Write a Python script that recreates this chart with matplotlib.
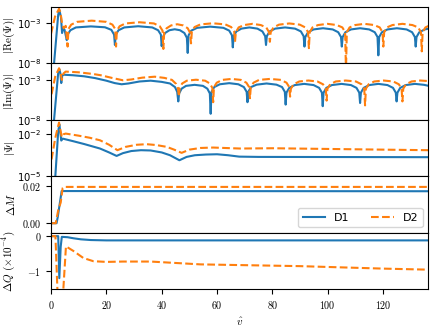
import numpy as np
import matplotlib
matplotlib.use("Agg")
import matplotlib.pyplot as plt
from matplotlib.ticker import NullLocator

plt.rcParams['mathtext.fontset'] = 'cm'
plt.rcParams['axes.formatter.use_mathtext'] = True

# ---------------- data (t, log10|value|) ----------------
re_d1 = [(1.1, -8.0), (2.6, -1.9), (3.0, -1.29), (3.6, -2.2), (4.0, -4.2), (4.4, -3.6), (4.9, -3.8), (5.7, -5.1),
         (6.0, -4.4), (7.0, -3.85), (9.0, -3.5), (14.4, -3.37), (19.5, -3.48), (21.8, -3.8), (22.8, -4.4), (23.1, -5.7),
         (23.4, -4.4), (24.4, -3.85), (26.5, -3.5), (31.5, -3.35), (36.6, -3.5), (38.7, -3.85), (39.7, -4.4), (40.0, -5.85),
         (40.3, -4.8), (41.2, -4.2), (42.8, -3.85), (44.7, -3.73), (46.6, -3.85), (48.2, -4.2), (49.1, -4.8), (49.4, -6.7),
         (49.7, -4.5), (50.7, -3.9), (52.8, -3.55), (57.5, -3.4), (62.3, -3.55), (64.4, -3.9), (65.4, -4.5), (65.7, -6.0),
         (66.0, -4.6), (67.0, -4.0), (68.8, -3.65), (71.7, -3.5), (74.6, -3.65), (76.4, -4.0), (77.4, -4.6), (77.7, -5.7),
         (78.0, -4.6), (79.0, -4.0), (81.0, -3.65), (84.6, -3.5), (88.2, -3.65), (90.3, -4.0), (91.3, -4.6), (91.6, -5.9),
         (91.9, -4.7), (92.9, -4.1), (94.9, -3.75), (98.3, -3.6), (101.8, -3.75), (103.8, -4.1), (104.8, -4.7), (105.1, -5.9),
         (105.4, -4.7), (106.4, -4.1), (108.4, -3.75), (111.7, -3.6), (115.0, -3.75), (117.0, -4.1), (118.0, -4.7), (118.3, -7.0),
         (118.6, -4.7), (119.6, -4.1), (121.6, -3.75), (125.0, -3.6), (128.5, -3.75), (130.5, -4.1), (131.5, -4.7), (131.8, -5.9),
         (132.1, -4.7), (133.1, -4.1), (135.1, -3.75), (136.5, -3.65)]

re_d2 = [(0.0, -4.3), (1.45, -2.14), (2.9, -1.16), (3.4, -1.6), (4.0, -3.0), (4.6, -3.6), (5.3, -3.3), (6.0, -5.9),
         (6.3, -3.7), (7.3, -3.15), (9.4, -2.8), (14.7, -2.65), (20.0, -2.8), (22.2, -3.15), (23.2, -3.7), (23.5, -5.9),
         (23.8, -3.9), (24.8, -3.35), (26.9, -3.0), (32.0, -2.85), (37.2, -3.0), (39.3, -3.35), (40.3, -3.9), (40.6, -6.2),
         (40.9, -4.2), (41.8, -3.6), (43.4, -3.25), (45.6, -3.1), (47.8, -3.25), (49.4, -3.6), (50.3, -4.2), (50.6, -5.5),
         (50.9, -4.0), (51.9, -3.45), (54.0, -3.12), (58.5, -2.98), (63.0, -3.12), (65.1, -3.45), (66.2, -4.0), (66.5, -5.3),
         (66.8, -4.1), (67.8, -3.5), (69.8, -3.2), (72.8, -3.05), (75.8, -3.2), (77.8, -3.5), (78.8, -4.1), (79.1, -5.3),
         (79.4, -4.1), (80.4, -3.5), (82.4, -3.15), (86.1, -3.0), (89.9, -3.15), (91.9, -3.5), (92.9, -4.1), (93.2, -6.1),
         (93.5, -4.1), (94.5, -3.5), (96.5, -3.2), (99.9, -3.05), (103.3, -3.2), (105.3, -3.5), (106.3, -4.1), (106.6, -9.0),
         (106.9, -4.1), (107.9, -3.5), (109.9, -3.2), (113.3, -3.05), (116.8, -3.2), (118.8, -3.5), (119.8, -4.1), (120.1, -5.9),
         (120.4, -4.1), (121.4, -3.5), (123.4, -3.2), (127.0, -3.05), (130.6, -3.2), (132.7, -3.5), (133.7, -4.1), (134.0, -6.5),
         (134.3, -4.1), (135.3, -3.5), (136.5, -3.3)]

im_d1 = [(1.1, -8.0), (2.6, -2.1), (3.0, -1.66), (3.4, -2.2), (3.7, -3.4), (4.1, -2.4), (4.5, -2.35),
         (8.0, -2.42), (12.0, -2.55), (16.0, -2.78), (20.0, -3.1), (23.0, -3.4), (25.5, -3.55), (28.0, -3.45),
         (32.0, -3.2), (36.0, -3.1), (40.0, -3.25), (43.0, -3.45), (44.8, -3.9), (45.6, -4.5), (46.0, -5.7),
         (46.3, -4.7), (47.2, -4.1), (48.8, -3.75), (51.9, -3.62), (54.9, -3.75), (56.5, -4.1), (57.4, -4.7), (57.7, -7.25),
         (58.0, -4.5), (59.0, -3.9), (61.0, -3.55), (64.4, -3.41), (67.7, -3.55), (69.7, -3.9), (70.7, -4.5), (71.0, -5.8),
         (71.3, -4.5), (72.3, -3.9), (74.3, -3.6), (77.9, -3.45), (81.5, -3.6), (83.5, -3.9), (84.5, -4.5), (84.8, -6.1),
         (85.1, -4.6), (86.1, -4.0), (88.1, -3.65), (91.5, -3.5), (94.9, -3.65), (96.9, -4.0), (97.9, -4.6), (98.2, -6.3),
         (98.5, -4.6), (99.5, -4.0), (101.5, -3.65), (105.0, -3.5), (108.4, -3.65), (110.4, -4.0), (111.4, -4.6), (111.7, -5.9),
         (112.0, -4.6), (113.0, -4.0), (115.0, -3.65), (118.3, -3.5), (121.6, -3.65), (123.6, -4.0), (124.6, -4.6), (124.9, -5.7),
         (125.2, -4.6), (126.2, -4.0), (128.2, -3.65), (131.5, -3.5), (134.8, -3.62), (136.5, -3.75)]

im_d2 = [(0.2, -4.8), (1.5, -2.6), (2.9, -1.54), (3.4, -2.0), (3.9, -3.0), (4.5, -2.2), (5.3, -1.96),
         (10.0, -2.05), (15.0, -2.25), (18.0, -2.42), (22.0, -2.75), (26.0, -3.05), (29.0, -2.95), (33.0, -2.72),
         (37.5, -2.6), (41.0, -2.75), (43.7, -3.0), (45.2, -3.5), (45.9, -4.1), (46.2, -5.1),
         (46.5, -4.0), (47.4, -3.45), (49.1, -3.1), (52.4, -2.98), (55.7, -3.1), (57.4, -3.45), (58.3, -4.0), (58.6, -5.8),
         (58.9, -3.9), (59.9, -3.35), (61.9, -3.0), (65.2, -2.88), (68.6, -3.0), (70.6, -3.35), (71.6, -3.9), (71.9, -5.3),
         (72.2, -3.9), (73.2, -3.35), (75.2, -3.0), (79.1, -2.88), (83.1, -3.0), (85.1, -3.35), (86.1, -3.9), (86.4, -5.1),
         (86.7, -4.1), (87.7, -3.55), (89.7, -3.2), (93.0, -3.08), (96.3, -3.2), (98.3, -3.55), (99.3, -4.1), (99.6, -5.6),
         (99.9, -4.1), (100.9, -3.55), (102.9, -3.2), (106.5, -3.08), (110.2, -3.2), (112.2, -3.55), (113.2, -4.1), (113.5, -6.2),
         (113.8, -4.1), (114.8, -3.55), (116.8, -3.2), (120.2, -3.08), (123.7, -3.2), (125.7, -3.55), (126.7, -4.1), (127.0, -5.7),
         (127.3, -4.1), (128.3, -3.55), (130.3, -3.2), (133.5, -3.08), (136.5, -3.15)]

abs_d1 = [(1.4, -5.5), (2.6, -1.8), (3.0, -1.29), (3.4, -1.9), (3.7, -2.45), (4.2, -2.31), (8.1, -2.5), (12.0, -2.7),
          (17.7, -3.02), (21.0, -3.3), (23.7, -3.55), (26.0, -3.35), (29.0, -3.2), (32.5, -3.14), (36.0, -3.16),
          (40.0, -3.3), (43.0, -3.5), (46.4, -3.86), (49.0, -3.62), (52.0, -3.5), (56.0, -3.45), (60.0, -3.43),
          (64.0, -3.5), (68.0, -3.6), (75.0, -3.62), (136.5, -3.64)]

abs_d2 = [(0.2, -3.8), (1.5, -2.3), (2.9, -1.16), (3.4, -1.7), (3.9, -2.2), (4.5, -2.0), (5.3, -1.95), (10.0, -2.1),
          (14.0, -2.25), (17.7, -2.43), (21.0, -2.75), (24.0, -3.14), (27.0, -2.9), (31.0, -2.75), (34.6, -2.71),
          (38.0, -2.77), (41.8, -2.9), (44.5, -3.1), (47.2, -3.33), (50.0, -3.1), (54.0, -2.98), (58.6, -2.95),
          (64.0, -2.99), (68.3, -3.02), (80.0, -3.0), (100.0, -3.05), (120.0, -3.1), (136.5, -3.14)]

dm_d1 = [(0.0, 0.0), (2.0, 0.0), (2.4, 0.003), (3.85, 0.0171), (136.5, 0.0170)]
dm_d2 = [(0.0, 0.0), (1.7, 0.0), (2.6, 0.0069), (3.5, 0.011), (4.2, 0.0187), (4.8, 0.0193), (136.5, 0.0193)]

dq_d1 = [(0.0, 0.0), (2.6, 0.0), (3.0, -1.19), (3.5, -0.3), (3.9, -0.02), (6.0, -0.03), (8.1, -0.06),
         (10.8, -0.09), (14.4, -0.11), (20.0, -0.12), (60.0, -0.12), (136.5, -0.12)]
dq_d2 = [(0.0, 0.0), (1.6, 0.0), (2.4, -1.7), (4.3, -1.7), (5.4, -0.29), (8.1, -0.42), (11.7, -0.62),
         (15.3, -0.71), (20.0, -0.73), (26.0, -0.72), (36.0, -0.72), (45.0, -0.76), (54.0, -0.8),
         (61.0, -0.81), (90.0, -0.85), (120.0, -0.92), (136.5, -0.95)]

series_labels = ["D1", "D2"]
ylabels = [r"$|\mathrm{Re}(\Psi)|$", r"$|\mathrm{Im}(\Psi)|$", r"$|\Psi|$", r"$\Delta M$",
           r"$\Delta Q\ (\times 10^{-4})$"]
xticks = [0, 20, 40, 60, 80, 100, 120]

# ---------------- figure ----------------
fig, axes = plt.subplots(5, 1, sharex=True, figsize=(4.36, 3.27), dpi=100)
fig.subplots_adjust(left=0.117, right=0.982, top=0.979, bottom=0.116, hspace=0)

c1, c2 = "C0", "C1"
lw = 1.5

def xy(d):
    a = np.array(d, dtype=float)
    return a[:, 0], a[:, 1]

log_sets = [(re_d1, re_d2), (im_d1, im_d2), (abs_d1, abs_d2)]
for ax, (d1, d2) in zip(axes[:3], log_sets):
    x, y = xy(d1)
    ax.plot(x, 10 ** y, color=c1, lw=lw, label=series_labels[0])
    x, y = xy(d2)
    ax.plot(x, 10 ** y, color=c2, lw=lw, ls="--", label=series_labels[1])
    ax.set_yscale("log")

axes[0].set_ylim(1e-8, 10 ** -0.92)
axes[0].set_yticks([1e-8, 1e-3])
axes[1].set_ylim(1e-8, 10 ** -0.92)
axes[1].set_yticks([1e-8, 1e-3])
axes[2].set_ylim(1e-5, 10 ** -0.96)
axes[2].set_yticks([1e-5, 1e-2])
for ax in axes[:3]:
    ax.yaxis.set_minor_locator(NullLocator())

x, y = xy(dm_d1)
axes[3].plot(x, y, color=c1, lw=lw, label=series_labels[0])
x, y = xy(dm_d2)
axes[3].plot(x, y, color=c2, lw=lw, ls="--", label=series_labels[1])
axes[3].set_ylim(-0.005, 0.025)
axes[3].set_yticks([0.0, 0.02])
axes[3].set_yticklabels([r"$0.00$", r"$0.02$"])
axes[3].legend(loc="lower right", ncol=2, fontsize=8)

x, y = xy(dq_d1)
axes[4].plot(x, y, color=c1, lw=lw)
x, y = xy(dq_d2)
axes[4].plot(x, y, color=c2, lw=lw, ls="--")
axes[4].set_ylim(-1.5, 0.1)
axes[4].set_yticks([0, -1])
axes[4].set_yticklabels([r"$0$", r"$-1$"])

axes[4].set_xlim(0, 136.3)
axes[4].set_xticks(xticks)
axes[4].set_xticklabels([rf"${v}$" for v in xticks])
axes[4].set_xlabel(r"$\hat{v}$", fontsize=8)

for ax, lab in zip(axes, ylabels):
    ax.set_ylabel(lab, fontsize=8)
    ax.yaxis.set_label_coords(-0.09, 0.5)
    ax.tick_params(labelsize=7.2)

fig.savefig("out.png", dpi=100)
